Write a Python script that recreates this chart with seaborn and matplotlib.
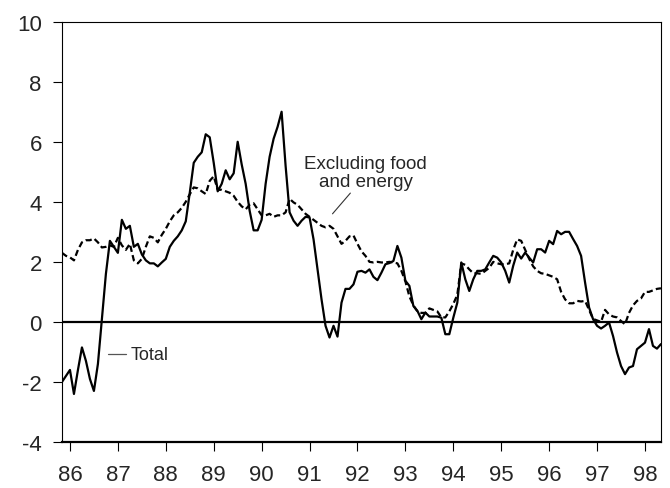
import numpy as np
import pandas as pd
import seaborn as sns
import matplotlib.pyplot as plt

# monthly, Nov 1985 .. May 1998 (12-month % change)
total = [
    -2.0, -1.8, -1.6, -2.4, -1.6, -0.85, -1.3, -1.9, -2.3, -1.4,
    0.1, 1.6, 2.7, 2.5, 2.3, 3.4, 3.1, 3.2, 2.5, 2.6,
    2.25, 2.05, 1.95, 1.95, 1.85, 1.98, 2.1, 2.5, 2.7, 2.85,
    3.05, 3.35, 4.3, 5.3, 5.5, 5.65, 6.25, 6.15, 5.3, 4.35,
    4.6, 5.05, 4.75, 4.95, 6.0, 5.25, 4.6, 3.7, 3.05, 3.05,
    3.4, 4.6, 5.5, 6.1, 6.5, 7.0, 5.2, 3.65, 3.37, 3.2,
    3.37, 3.5, 3.48, 2.75, 1.75, 0.75, -0.13, -0.52, -0.13, -0.49,
    0.64, 1.1, 1.1, 1.25, 1.67, 1.7, 1.64, 1.75, 1.5, 1.39,
    1.64, 1.92, 1.96, 2.03, 2.53, 2.14, 1.37, 1.2, 0.53, 0.37,
    0.09, 0.31, 0.18, 0.18, 0.18, 0.14, -0.41, -0.41, 0.14, 0.64,
    1.98, 1.42, 1.03, 1.42, 1.7, 1.7, 1.75, 1.98, 2.2, 2.14,
    1.98, 1.7, 1.31, 1.87, 2.31, 2.11, 2.31, 2.14, 1.98, 2.42,
    2.42, 2.31, 2.7, 2.59, 3.03, 2.92, 3.0, 3.0, 2.76, 2.53,
    2.2, 1.31, 0.48, 0.09, -0.13, -0.22, -0.13, -0.02, -0.47, -1.02,
    -1.47, -1.74, -1.52, -1.47, -0.91, -0.8, -0.69, -0.24, -0.8, -0.89,
    -0.74,
]
excl_food_energy = [
    2.3, 2.2, 2.15, 2.05, 2.4, 2.65, 2.72, 2.72, 2.78, 2.65,
    2.48, 2.5, 2.55, 2.5, 2.8, 2.55, 2.4, 2.6, 2.05, 1.95,
    2.1, 2.5, 2.85, 2.8, 2.65, 2.9, 3.1, 3.35, 3.55, 3.65,
    3.8, 4.0, 4.25, 4.48, 4.45, 4.35, 4.26, 4.7, 4.85, 4.4,
    4.4, 4.35, 4.3, 4.2, 4.0, 3.85, 3.75, 3.9, 3.95, 3.75,
    3.55, 3.55, 3.6, 3.5, 3.55, 3.55, 3.65, 4.1, 3.98, 3.9,
    3.75, 3.6, 3.5, 3.4, 3.3, 3.2, 3.15, 3.2, 3.1, 2.85,
    2.6, 2.7, 2.85, 2.88, 2.6, 2.35, 2.2, 2.0, 1.98, 2.0,
    1.98, 1.98, 2.0, 1.98, 1.95, 1.7, 1.35, 0.85, 0.55, 0.35,
    0.3, 0.3, 0.45, 0.4, 0.35, 0.15, 0.15, 0.35, 0.6, 0.9,
    1.95, 1.9, 1.75, 1.62, 1.62, 1.6, 1.7, 1.8, 2.0, 1.95,
    1.92, 1.92, 1.95, 2.4, 2.75, 2.7, 2.4, 2.1, 1.85, 1.7,
    1.62, 1.6, 1.55, 1.5, 1.42, 1.0, 0.75, 0.62, 0.62, 0.7,
    0.68, 0.7, 0.4, 0.1, 0.05, 0.0, 0.4, 0.25, 0.18, 0.15,
    0.03, -0.08, 0.3, 0.55, 0.7, 0.78, 1.0, 1.0, 1.05, 1.1,
    1.12,
]
years = list(range(1986, 1999))
year_labels = ["86", "87", "88", "89", "90", "91", "92", "93", "94", "95", "96", "97", "98"]

t = 1985 + 10 / 12 + np.arange(len(total)) / 12
df = pd.DataFrame({"t": t, "total": total, "excl": excl_food_energy})

sns.set_style("ticks")
plt.rcParams['font.family'] = ['Liberation Sans', 'DejaVu Sans']
plt.rcParams['axes.unicode_minus'] = False

fig = plt.figure(figsize=(6.7, 4.89), dpi=100)
ax = fig.add_axes([0.0925, 0.0941, 0.894, 0.8595])

ax.axhline(0, color="black", lw=1.6, zorder=1)
sns.lineplot(data=df, x="t", y="excl", ax=ax, color="black", lw=1.6,
             linestyle=(0, (2.8, 1.5)), zorder=2)
sns.lineplot(data=df, x="t", y="total", ax=ax, color="black", lw=1.6, zorder=3)

ax.set_xlim(1985 + 10 / 12, 1998 + 4 / 12)
ax.set_ylim(-4, 10)
ax.set_yticks(range(-4, 11, 2))
ax.set_xticks(years)
ax.set_xticklabels(year_labels)
ax.set_xlabel("")
ax.set_ylabel("")
ax.tick_params(axis="both", labelsize=16, direction="out", length=6.5, width=0.8,
               color="black")
ax.tick_params(axis="x", pad=9)
ax.tick_params(axis="y", pad=8)

for side in ["left", "top", "right"]:
    ax.spines[side].set_linewidth(0.8)
    ax.spines[side].set_color("black")
ax.spines["bottom"].set_linewidth(1.6)
ax.spines["bottom"].set_color("black")

# labels
ax.annotate("Excluding food\nand energy", xy=(1985 + 10 / 12 + (333 - 62) / 48, 3.6),
            xytext=(1985 + 10 / 12 + (366 - 62) / 48, 4.4),
            ha="center", va="bottom", fontsize=13.5, linespacing=1.05,
            arrowprops=dict(arrowstyle="-", color="#333333", lw=0.8,
                            shrinkA=0, shrinkB=0,
                            relpos=(0.4, 0.0)))
ax.plot([1985 + 10 / 12 + (107.7 - 62) / 48, 1985 + 10 / 12 + (126.3 - 62) / 48],
        [-1.08, -1.08], color="#555555", lw=0.9)
ax.text(1985 + 10 / 12 + (131 - 62) / 48, -1.08, "Total", ha="left", va="center",
        fontsize=13)

fig.savefig("out.png", dpi=100)
